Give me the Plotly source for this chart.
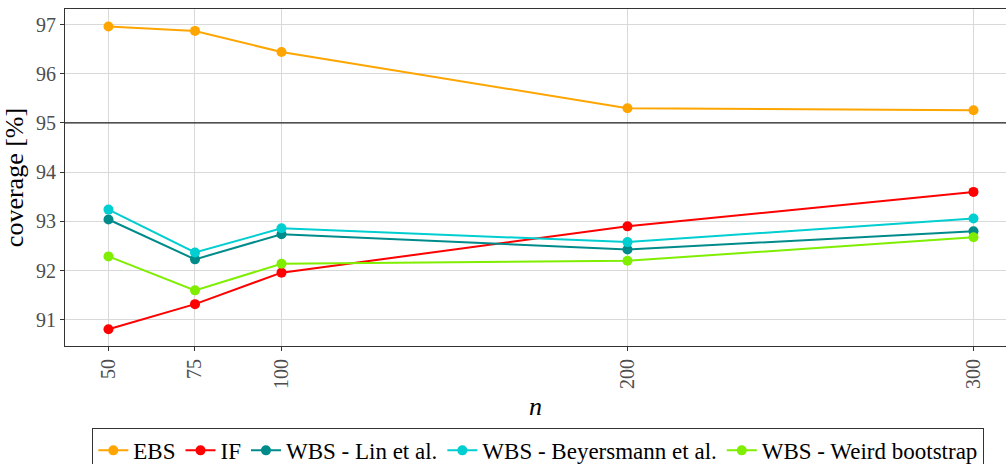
import plotly.graph_objects as go

n_values = [50, 75, 100, 200, 300]
ebs = [96.96, 96.87, 96.44, 95.30, 95.26]
if_vals = [90.81, 91.32, 91.96, 92.90, 93.60]
wbs_lin = [93.04, 92.23, 92.74, 92.43, 92.80]
wbs_beyersmann = [93.24, 92.37, 92.86, 92.58, 93.06]
wbs_weird = [92.29, 91.60, 92.14, 92.20, 92.68]

series = [
    ("EBS", ebs, "#FFA500"),
    ("IF", if_vals, "#FF0000"),
    ("WBS - Lin et al.", wbs_lin, "#008B8B"),
    ("WBS - Beyersmann et al.", wbs_beyersmann, "#00CED1"),
    ("WBS - Weird bootstrap", wbs_weird, "#7FEE00"),
]

FONT = "Liberation Serif, DejaVu Serif, serif"

fig = go.Figure()
for name, vals, col in series:
    fig.add_trace(go.Scatter(
        x=n_values, y=vals, name=name, mode="lines+markers",
        line=dict(color=col, width=2),
        marker=dict(color=col, size=10),
    ))

fig.add_hline(y=95, line=dict(color="#222222", width=1.2), layer="above")

fig.update_layout(
    width=1006, height=464,
    margin=dict(l=65, r=0, t=9, b=118, autoexpand=False),
    plot_bgcolor="white", paper_bgcolor="white",
    font=dict(family=FONT, color="black"),
    showlegend=True,
    legend=dict(
        orientation="h", x=0.503, xanchor="center", y=-0.243, yanchor="top",
        bordercolor="#333333", borderwidth=1,
        font=dict(family=FONT, size=23, color="black"),
        itemwidth=30,
    ),
    xaxis=dict(
        range=[37.43, 309.4],
        automargin=False,
        tickvals=n_values, ticktext=[str(v) for v in n_values],
        tickangle=-90,
        tickfont=dict(family=FONT, size=20, color="#4d4d4d"),
        showgrid=True, gridcolor="#d9d9d9", gridwidth=1,
        showline=True, linecolor="#333333", linewidth=1.2, mirror=True,
        ticks="outside", ticklen=4, tickcolor="#333333",
        zeroline=False,
        title=dict(text="<i>n</i>", font=dict(family=FONT, size=26, color="black"), standoff=8),
    ),
    yaxis=dict(
        range=[90.47, 97.315],
        automargin=False,
        tickvals=[91, 92, 93, 94, 95, 96, 97],
        tickfont=dict(family=FONT, size=20, color="#4d4d4d"),
        showgrid=True, gridcolor="#d9d9d9", gridwidth=1,
        showline=True, linecolor="#333333", linewidth=1.2,
        ticks="outside", ticklen=4, tickcolor="#333333",
        zeroline=False,
        title=dict(text="coverage [%]", font=dict(family=FONT, size=26, color="black"), standoff=6),
    ),
)

fig.write_html(
    "out.html",
    config={"displayModeBar": False},
    post_script="document.body.style.margin='0';document.body.style.overflow='hidden';",
)
